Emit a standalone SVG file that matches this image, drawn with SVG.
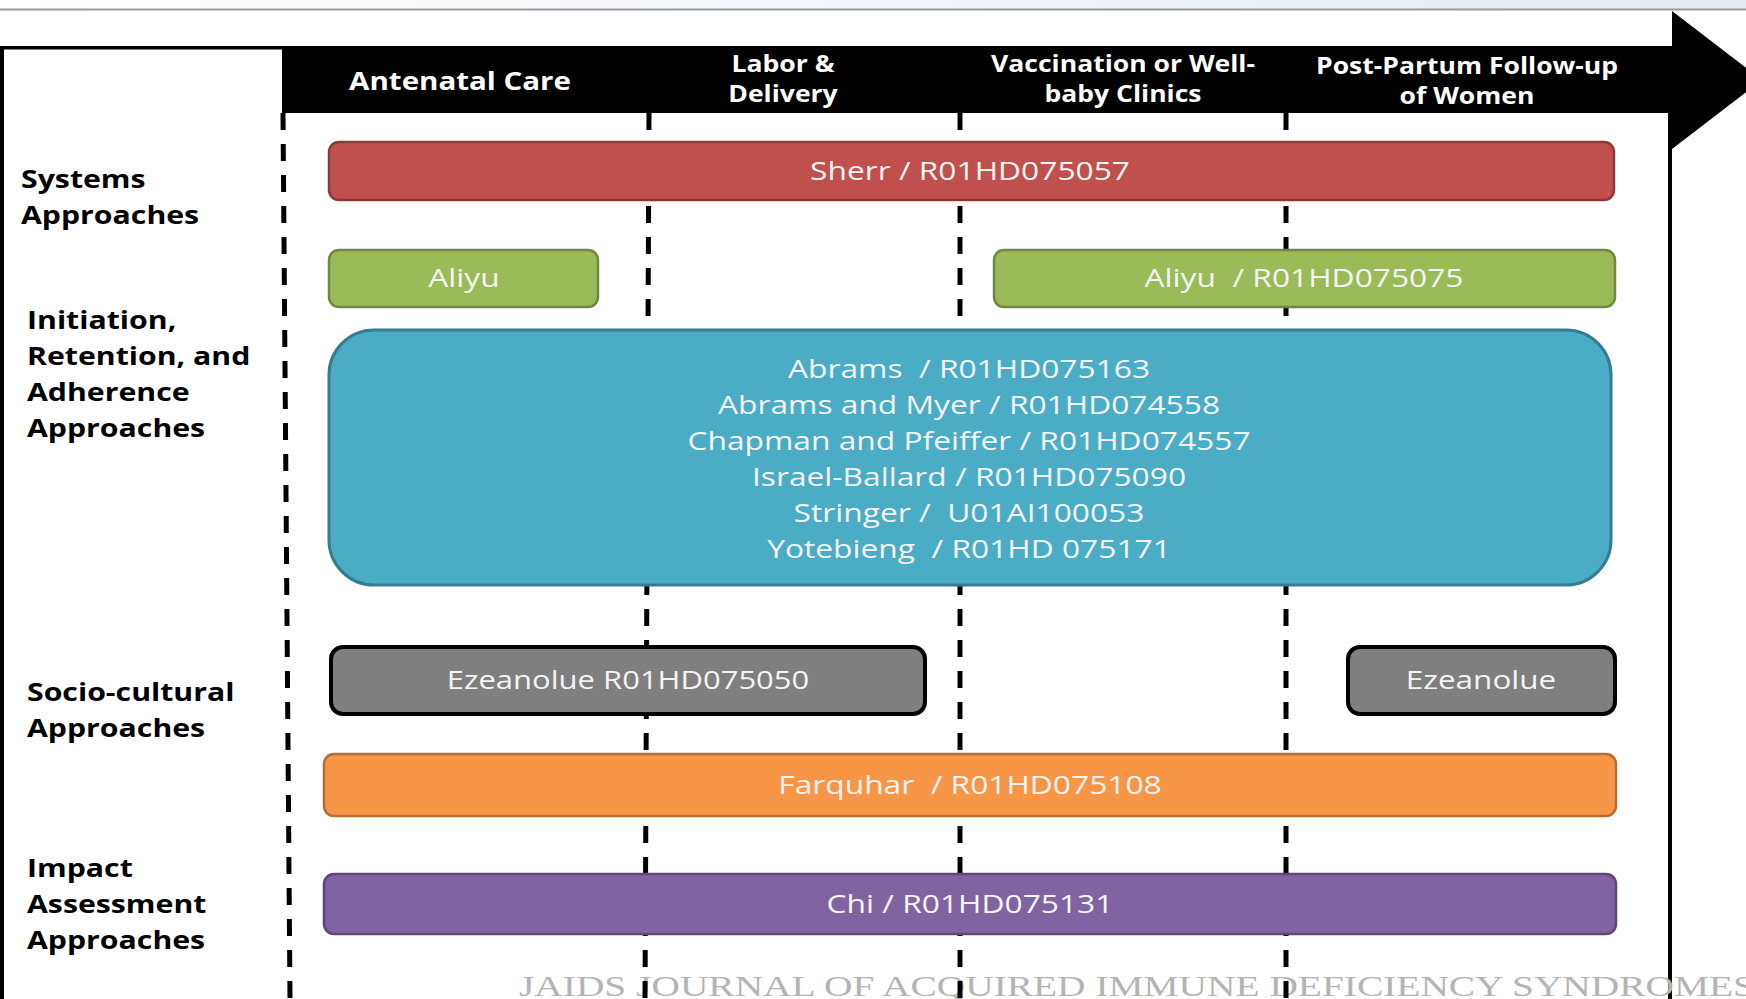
<svg xmlns="http://www.w3.org/2000/svg" width="1746" height="999" viewBox="0 0 1746 999">
<defs>
<linearGradient id="topband" x1="0" y1="0" x2="1" y2="0">
<stop offset="0" stop-color="#ffffff"/>
<stop offset="1" stop-color="#e4ebf3"/>
</linearGradient>
<style>
.hd{font-family:"Open Sans","DejaVu Sans",sans-serif;font-weight:700;font-size:25px;fill:#ffffff;text-anchor:middle}
.hs{font-family:"Open Sans","DejaVu Sans",sans-serif;font-weight:700;font-size:22.5px;fill:#ffffff;text-anchor:middle}
.lb{font-family:"Open Sans","DejaVu Sans",sans-serif;font-weight:700;font-size:25px;fill:#000000}
.bt{font-family:"Open Sans","DejaVu Sans",sans-serif;font-size:25px;fill:#f4f4f4;text-anchor:middle}
.dash{stroke:#000000;stroke-width:5;stroke-dasharray:17 14;fill:none}
.red{fill:#c0504d;stroke:#8c3836;stroke-width:2.5}
.green{fill:#9bbb59;stroke:#71893f;stroke-width:2.5}
.blue{fill:#4bacc6;stroke:#357d91;stroke-width:3}
.gray{fill:#7f7f7f;stroke:#000000;stroke-width:4}
.orange{fill:#f79646;stroke:#b66d31;stroke-width:2.5}
.purple{fill:#8064a2;stroke:#5c4776;stroke-width:2.5}
.wm{font-family:"Liberation Serif","Times New Roman",serif;font-size:29px;fill:#b4b4b4}
</style>
</defs>
<rect x="0" y="0" width="1746" height="999" fill="#ffffff"/>
<rect x="0" y="0" width="1746" height="9" fill="url(#topband)"/>
<line x1="0" y1="9.5" x2="1746" y2="9.5" stroke="#9a9a9a" stroke-width="2"/>

<g id="frame">
<rect x="0" y="46" width="282" height="3.5" fill="#000000"/>
<rect x="0" y="46" width="4" height="953" fill="#000000"/>
<rect x="1668" y="112" width="4" height="887" fill="#000000"/>
<rect x="282" y="46" width="1391" height="67" fill="#000000"/>
<polygon points="1672,11 1762,80 1672,149" fill="#000000"/>
</g>

<text class="wm" x="519" y="996" textLength="1236" lengthAdjust="spacingAndGlyphs">JAIDS JOURNAL OF ACQUIRED IMMUNE DEFICIENCY SYNDROMES</text>

<g id="connectors">
<line class="dash" x1="283" y1="113" x2="290" y2="999"/>
<line class="dash" x1="649" y1="113" x2="645" y2="999"/>
<line class="dash" x1="960" y1="113" x2="960" y2="999"/>
<line class="dash" x1="1286" y1="113" x2="1286" y2="999"/>
</g>

<g id="header-antenatal"><text class="hd" transform="matrix(1.18 0 0 1 460 90)">Antenatal Care</text></g>
<g id="header-labor"><text class="hs" transform="matrix(1.18 0 0 1 783 72)">Labor &amp;</text><text class="hs" transform="matrix(1.18 0 0 1 783 102)">Delivery</text></g>
<g id="header-vaccination"><text class="hs" transform="matrix(1.18 0 0 1 1123 72)">Vaccination or Well-</text><text class="hs" transform="matrix(1.18 0 0 1 1123 102)">baby Clinics</text></g>
<g id="header-postpartum"><text class="hs" transform="matrix(1.18 0 0 1 1467 74)">Post-Partum Follow-up</text><text class="hs" transform="matrix(1.18 0 0 1 1467 104)">of Women</text></g>

<g id="label-systems"><text class="lb" transform="matrix(1.21 0 0 1 21 188)">Systems</text><text class="lb" transform="matrix(1.21 0 0 1 21 224)">Approaches</text></g>
<g id="label-initiation"><text class="lb" transform="matrix(1.21 0 0 1 27 329)">Initiation,</text><text class="lb" transform="matrix(1.21 0 0 1 27 365)">Retention, and</text><text class="lb" transform="matrix(1.21 0 0 1 27 401)">Adherence</text><text class="lb" transform="matrix(1.21 0 0 1 27 437)">Approaches</text></g>
<g id="label-socio"><text class="lb" transform="matrix(1.21 0 0 1 27 701)">Socio-cultural</text><text class="lb" transform="matrix(1.21 0 0 1 27 737)">Approaches</text></g>
<g id="label-impact"><text class="lb" transform="matrix(1.21 0 0 1 27 877)">Impact</text><text class="lb" transform="matrix(1.21 0 0 1 27 913)">Assessment</text><text class="lb" transform="matrix(1.21 0 0 1 27 949)">Approaches</text></g>

<g id="sherr"><rect class="red" x="329" y="142" width="1285" height="58" rx="10"/><text class="bt" transform="matrix(1.27 0 0 1 970 180)">Sherr / R01HD075057</text></g>
<g id="aliyu-1"><rect class="green" x="329" y="250" width="269" height="57" rx="10"/><text class="bt" transform="matrix(1.27 0 0 1 464 287)">Aliyu</text></g>
<g id="aliyu-2"><rect class="green" x="994" y="250" width="621" height="57" rx="10"/><text class="bt" transform="matrix(1.27 0 0 1 1304 287)" xml:space="preserve">Aliyu  / R01HD075075</text></g>
<g id="adherence-studies"><rect class="blue" x="329" y="330" width="1282" height="255" rx="45"/>
<text class="bt" transform="matrix(1.27 0 0 1 969 378)" xml:space="preserve">Abrams  / R01HD075163</text>
<text class="bt" transform="matrix(1.27 0 0 1 969 414)">Abrams and Myer / R01HD074558</text>
<text class="bt" transform="matrix(1.27 0 0 1 969 450)">Chapman and Pfeiffer / R01HD074557</text>
<text class="bt" transform="matrix(1.27 0 0 1 969 486)">Israel-Ballard / R01HD075090</text>
<text class="bt" transform="matrix(1.27 0 0 1 969 522)" xml:space="preserve">Stringer /  U01AI100053</text>
<text class="bt" transform="matrix(1.27 0 0 1 969 558)" xml:space="preserve">Yotebieng  / R01HD 075171</text>
</g>
<g id="ezeanolue-1"><rect class="gray" x="331" y="647" width="594" height="67" rx="12"/><text class="bt" transform="matrix(1.24 0 0 1 628 689)">Ezeanolue R01HD075050</text></g>
<g id="ezeanolue-2"><rect class="gray" x="1348" y="647" width="267" height="67" rx="12"/><text class="bt" transform="matrix(1.26 0 0 1 1481 689)">Ezeanolue</text></g>
<g id="farquhar"><rect class="orange" x="324" y="754" width="1292" height="62" rx="10"/><text class="bt" transform="matrix(1.27 0 0 1 970 794)" xml:space="preserve">Farquhar  / R01HD075108</text></g>
<g id="chi"><rect class="purple" x="324" y="874" width="1292" height="60" rx="10"/><text class="bt" transform="matrix(1.27 0 0 1 970 913)">Chi / R01HD075131</text></g>
</svg>
